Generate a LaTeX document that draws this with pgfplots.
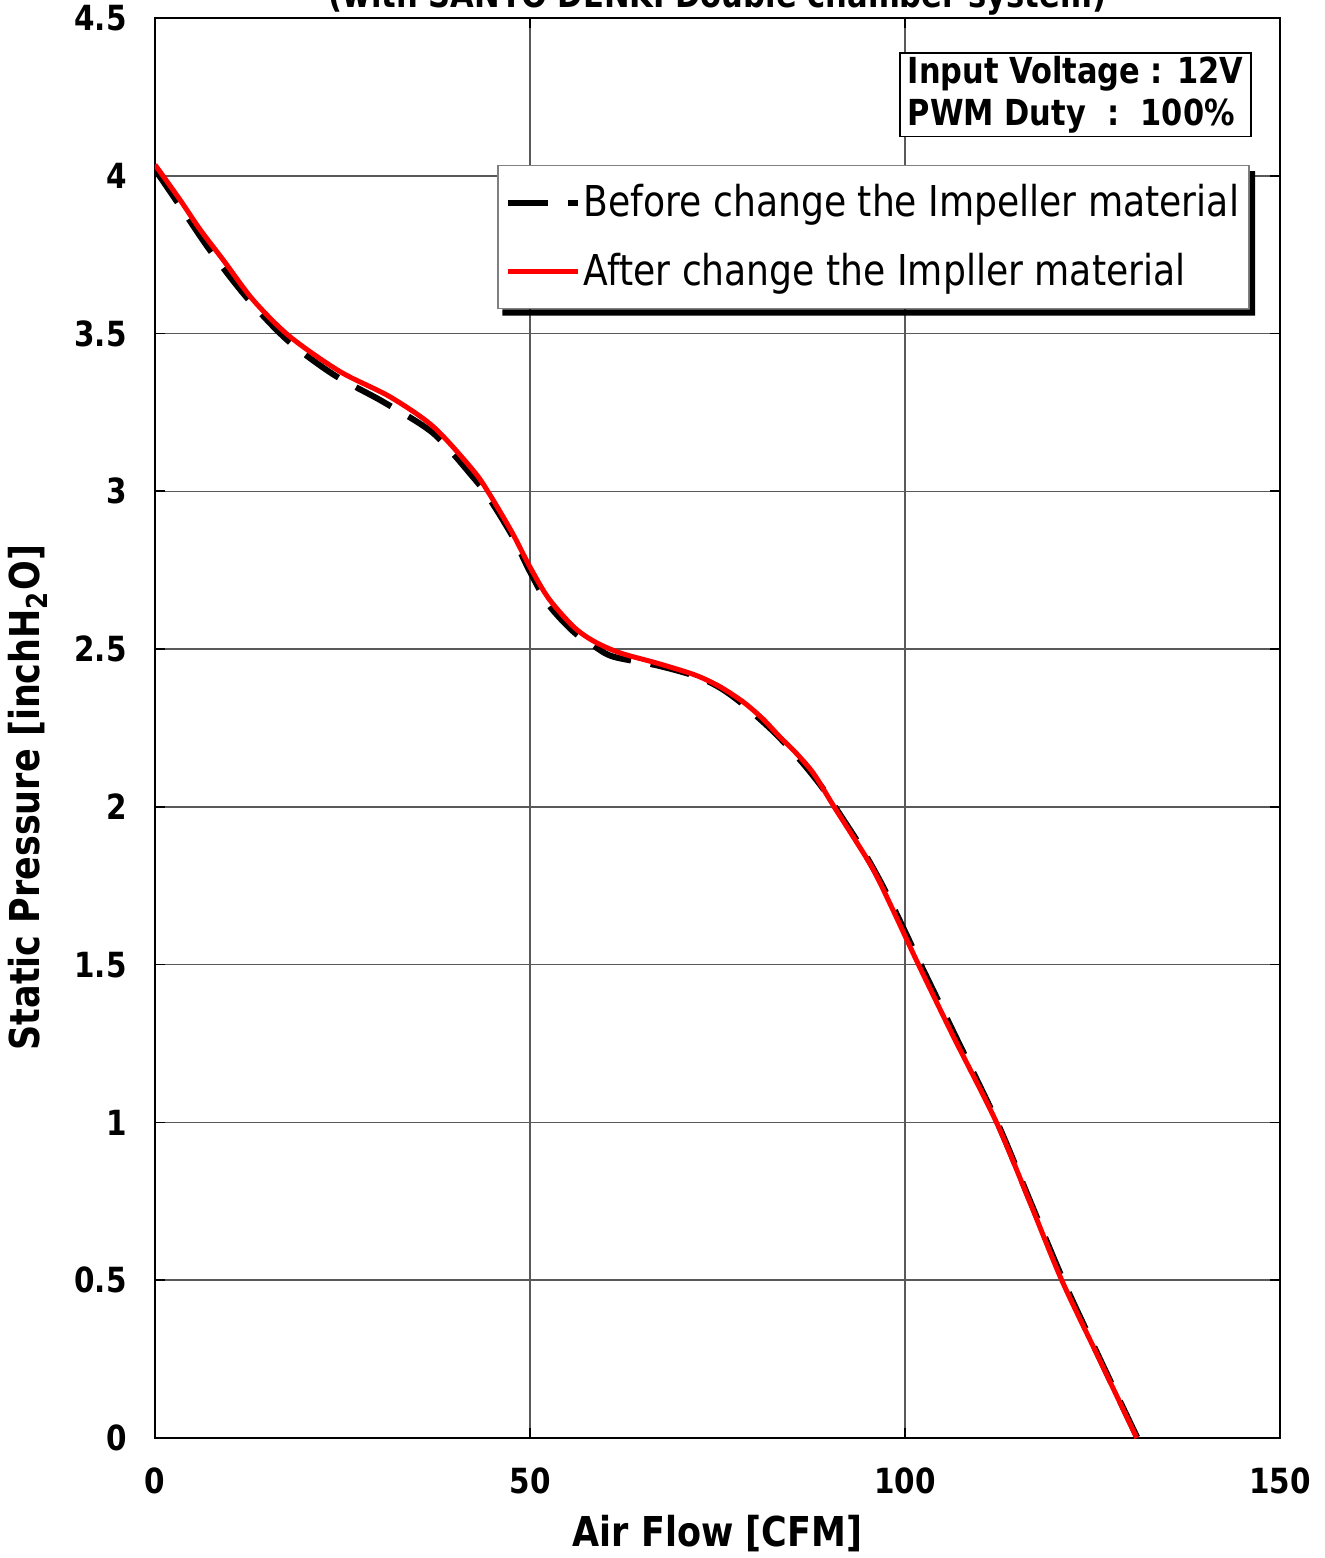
\documentclass[border=0pt]{standalone}
\usepackage{fontspec}
\setmainfont{DejaVu Sans}[FakeStretch=0.85]
\usepackage{pgfplots}
\pgfplotsset{compat=1.18}

\pgfplotstableread{
x y
0 4.02
3.3 3.905
7.3 3.765
12.2 3.615
17.6 3.48
23.8 3.37
30.4 3.284
37.1 3.184
42.4 3.045
44.5 2.98
47.6 2.86
50 2.745
52.5 2.64
55.8 2.555
58.5 2.51
61.1 2.476
67 2.448
72 2.415
75.3 2.378
78.4 2.325
82 2.249
84.2 2.196
86.5 2.135
89 2.06
91.5 1.97
94.2 1.87
96.8 1.76
99.2 1.645
101.9 1.51
106.6 1.28
112.3 1.0
116.7 0.75
121.1 0.5
126 0.25
131 0
}\before

\pgfplotstableread{
x y
0 4.035
3.3 3.925
6 3.83
9.1 3.733
13.1 3.606
18 3.49
24.7 3.379
31.3 3.30
37.1 3.205
42.4 3.067
44.5 2.995
47.6 2.87
50 2.76
52.5 2.66
55.8 2.571
58.5 2.525
62 2.488
67 2.455
72 2.418
75.3 2.381
78.4 2.333
81 2.28
83.3 2.222
85.5 2.17
87.8 2.106
90.4 2.006
93.1 1.905
95.8 1.80
98.4 1.673
101.8 1.50
106.5 1.27
112.2 1.0
116.6 0.75
120.9 0.5
125.9 0.25
130.9 0
}\after

\begin{document}
\begin{tikzpicture}
\begin{axis}[
  name=ax, at={(0,0)}, anchor=south west,
  scale only axis, width=337.5pt, height=426pt,
  xmin=0, xmax=150, ymin=0, ymax=4.5,
  xtick={0,50,100,150}, ytick={0,0.5,...,4.5},
  grid=major, grid style={gray!70!black, line width=0.45pt},
  axis line style={line width=0.7pt},
  tick style={black, line width=0.5pt}, major tick length=3pt, tick align=inside,
  /pgf/number format/assume math mode=true,
  ticklabel style={font=\fontsize{10.4}{12}\selectfont\bfseries},
  xticklabel style={yshift=-5.5pt},
  yticklabel style={xshift=-5pt},
  xlabel={Air Flow [CFM]},
  ylabel={Static Pressure [inchH\textsubscript{2}O]},
  label style={font=\fontsize{12.35}{14}\selectfont\bfseries},
  xlabel style={at={(axis description cs:0.5,-0.067)}, anchor=center},
  ylabel style={at={(axis description cs:-0.113,0.451)}, anchor=center},
  legend style={name=leg, at={(axis cs:45.6,4.035)}, anchor=north west, draw=gray, fill=white,
    line width=0.5pt, font=\fontsize{12.75}{15}\selectfont,
    inner xsep=2pt, inner ysep=4.5pt, row sep=7.5pt, nodes={inner sep=1pt}},
  legend cell align=left,
  legend image code/.code={\draw[#1] (0pt,0pt) -- (21pt,0pt);},
]
\addplot[black, line width=1.8pt, dash pattern=on 12pt off 6pt, smooth] table[x=x,y=y] {\before};
\addlegendentry{Before change the Impeller material}
\addplot[red, line width=1.5pt, smooth] table[x=x,y=y] {\after};
\addlegendentry{After change the Impller material}
\node[draw, fill=white, anchor=north west, align=left, inner xsep=2.4pt, inner ysep=1pt,
  line width=0.5pt, font=\fontsize{10.75}{12.6}\selectfont\bfseries]
  at (axis cs:99.2,4.392) {Input Voltage : 12V\\PWM Duty\ \ :\ \ 100\%};
\end{axis}
\fill[black] ([xshift=1.6pt]leg.south west) -- ([xshift=1.6pt,yshift=-1.9pt]leg.south west)
  -- ([xshift=1.6pt,yshift=-1.9pt]leg.south east) -- ([xshift=1.6pt,yshift=-1.9pt]leg.north east)
  -- ([yshift=-1.9pt]leg.north east) -- (leg.south east) -- cycle;
\node[anchor=base, font=\fontsize{10.8}{13}\selectfont\bfseries] at (168.75pt,429pt)
  {(with SANYO DENKI Double chamber system)};
\pgfresetboundingbox
\useasboundingbox (-46.5pt,-36pt) rectangle (351pt,431.4pt);
\end{tikzpicture}
\end{document}
